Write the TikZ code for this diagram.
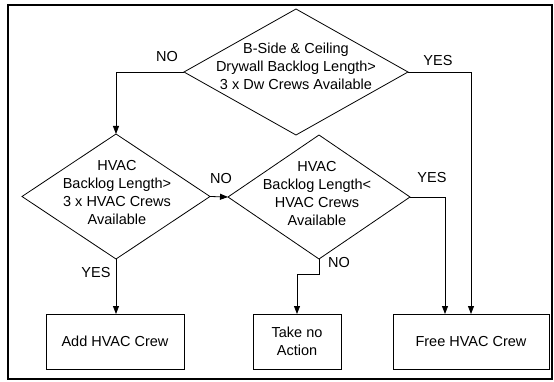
\documentclass[tikz,border=0pt]{standalone}
\usepackage{fontspec}
\setmainfont{Liberation Sans}
\usetikzlibrary{shapes.geometric,arrows.meta}
\begin{document}
\begin{tikzpicture}[x=1pt,y=-1pt,
  dia/.style={diamond,draw,line width=0.8pt,inner sep=0pt,outer sep=0pt},
  txt/.style={align=center,font=\fontsize{14.5}{18}\selectfont,inner sep=0pt},
  box/.style={draw,line width=0.8pt,inner sep=0pt,outer sep=0pt,minimum height=55pt,align=center,font=\fontsize{14.5}{18}\selectfont},
  lbl/.style={font=\fontsize{14.5}{18}\selectfont,inner sep=0pt},
  conn/.style={line width=0.8pt},
  arr/.style={conn,-{Triangle[length=8pt,width=6pt]}}]
\useasboundingbox (0,0) rectangle (554,382);
\node[draw,line width=2pt,minimum width=544pt,minimum height=374pt,inner sep=0pt,outer sep=0pt] (frame) at (280,192) {};
% decisions
\node[dia,minimum width=224pt,minimum height=126pt] (d1) at (296,72) {};
\node[txt] (d1t) at (296,66) {B-Side \& Ceiling\\Drywall Backlog Length>\\3 x Dw Crews Available};
\node[dia,minimum width=188pt,minimum height=125pt] (d2) at (116,196.5) {};
\node[txt] (d2t) at (117,193) {HVAC\\Backlog Length>\\3 x HVAC Crews\\Available};
\node[dia,minimum width=182pt,minimum height=124pt] (d3) at (319,197) {};
\node[txt] (d3t) at (317,193.5) {HVAC\\Backlog Length<\\HVAC Crews\\Available};
% actions
\node[box,minimum width=138pt] (b1) at (115,341.5) {Add HVAC Crew};
\node[box,minimum width=88pt] (b2) at (297,341.5) {Take no\\Action};
\node[box,minimum width=156pt] (b3) at (471,341.5) {Free HVAC Crew};
% connectors
\draw[arr] (d1.west) -| (d2.north);
\draw[arr] (d1.east) -| (b3.north);
\draw[arr] (d2.east) -- (d3.west);
\coordinate (y3) at (445,314);
\draw[arr] (d3.east) -| (y3);
\draw[arr] (d2.south) -- (d2.south |- b1.north);
\coordinate (n3) at (319,274);
\draw[arr] (d3.south) -- (n3) -| (b2.north);
% labels
\node[lbl] (lno1) at (167,57) {NO};
\node[lbl] (lyes1) at (438,61) {YES};
\node[lbl] (lno2) at (221,179) {NO};
\node[lbl] (lyes2) at (432,178) {YES};
\node[lbl] (lyes3) at (96,273) {YES};
\node[lbl] (lno3) at (339,263) {NO};
\end{tikzpicture}
\end{document}
